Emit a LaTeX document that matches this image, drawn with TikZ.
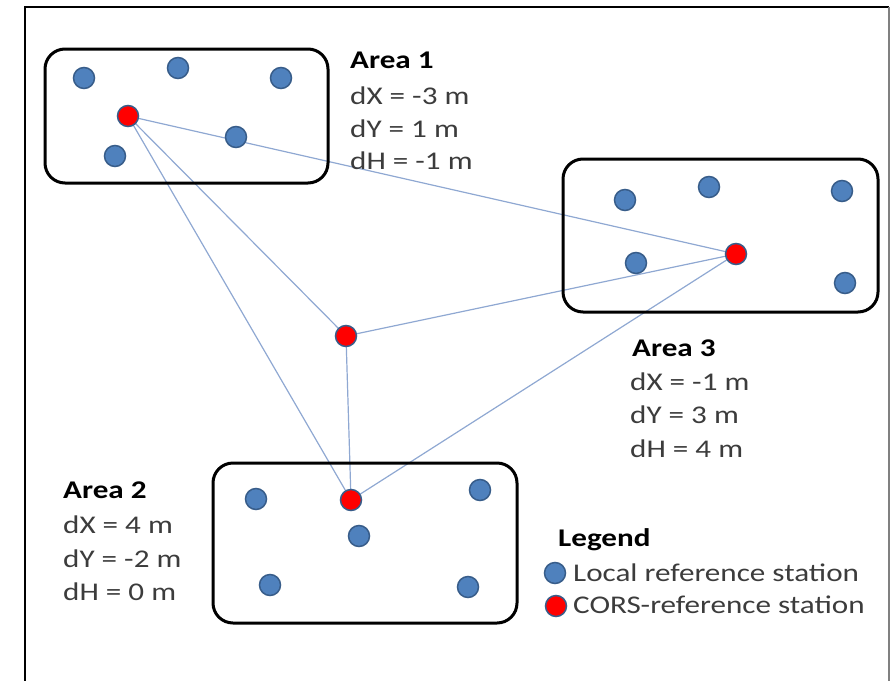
\documentclass[tikz,border=0pt]{standalone}
\usepackage{fontspec}
\setmainfont{Carlito}[FakeStretch=1.22]
\usetikzlibrary{backgrounds}
\definecolor{stfill}{HTML}{4F81BD}
\definecolor{stline}{HTML}{385D8A}
\definecolor{linkblue}{HTML}{8FA8D2}
\definecolor{txt}{HTML}{3C3C3C}
\begin{document}
\begin{tikzpicture}[x=1pt,y=-1pt,
  local/.style={circle,fill=stfill,draw=stline,line width=1.5pt,minimum size=21pt,inner sep=0pt},
  cors/.style={local,fill=red},
  areabox/.style={draw=black,line width=3pt,rounded corners=20pt},
  linkline/.style={draw=linkblue,line width=1.2pt},
  lbl/.style={anchor=base west,inner sep=0pt,text=txt,font=\fontsize{25.5}{30}\selectfont},
  head/.style={lbl,text=black,font=\fontsize{25.5}{30}\selectfont\bfseries}]

\clip (0,0) rectangle (891,680);

% outer frame
\draw[line width=2.5pt] (25,700) -- (25,7) -- (889,7);
\draw[line width=2pt,gray] (889,7) -- (889,700);

% area outlines
\draw[areabox] (45,49) rectangle (328,183);
\draw[areabox] (563,159) rectangle (878,312);
\draw[areabox] (213,463) rectangle (517,623);

% Area 1 stations
\node[local] (a1s1) at (84,78) {};
\node[local] (a1s2) at (178,68) {};
\node[local] (a1s3) at (281,78) {};
\node[cors]  (r1)   at (128,116) {};
\node[local] (a1s4) at (236,137) {};
\node[local] (a1s5) at (115,156) {};

% Area 3 stations
\node[local] (a3s1) at (625,200) {};
\node[local] (a3s2) at (709,187) {};
\node[local] (a3s3) at (842,191) {};
\node[local] (a3s4) at (636,263) {};
\node[cors]  (r3)   at (736,254) {};
\node[local] (a3s5) at (845,283) {};

% Area 2 stations
\node[local] (a2s1) at (256,499) {};
\node[cors]  (r2)   at (351,500) {};
\node[local] (a2s2) at (480,490) {};
\node[local] (a2s3) at (359,536) {};
\node[local] (a2s4) at (270,585) {};
\node[local] (a2s5) at (468,587) {};

% central CORS station
\node[cors] (rc) at (346,336) {};

% baselines between CORS stations
\begin{pgfonlayer}{background}
  \draw[linkline] (r1.center) -- (r3.center);
  \draw[linkline] (r1.center) -- (rc.center);
  \draw[linkline] (r1.center) -- (r2.center);
  \draw[linkline] (rc.center) -- (r3.center);
  \draw[linkline] (rc.center) -- (r2.center);
  \draw[linkline] (r3.center) -- (r2.center);
\end{pgfonlayer}

% area shifts
\node[head] (t1) at (350,68) {Area 1};
\node[lbl] (t1x) at (350,104) {dX = -3 m};
\node[lbl] (t1y) at (350,137) {dY = 1 m};
\node[lbl] (t1h) at (350,169) {dH = -1 m};

\node[head] (t3) at (632,356) {Area 3};
\node[lbl] (t3x) at (630,390) {dX = -1 m};
\node[lbl] (t3y) at (630,423) {dY = 3 m};
\node[lbl] (t3h) at (630,457) {dH = 4 m};

\node[head] (t2) at (63,498) {Area 2};
\node[lbl] (t2x) at (63,533) {dX = 4 m};
\node[lbl] (t2y) at (63,567) {dY = -2 m};
\node[lbl] (t2h) at (63,600) {dH = 0 m};

% legend
\node[head] (lg) at (558,546) {Legend};
\node[local] (lgl) at (555,573) {};
\node[lbl] (lglt) at (573,581) {Local reference station};
\node[cors] (lgc) at (556,606) {};
\node[lbl] (lgct) at (573,613) {CORS-reference station};
\end{tikzpicture}
\end{document}
